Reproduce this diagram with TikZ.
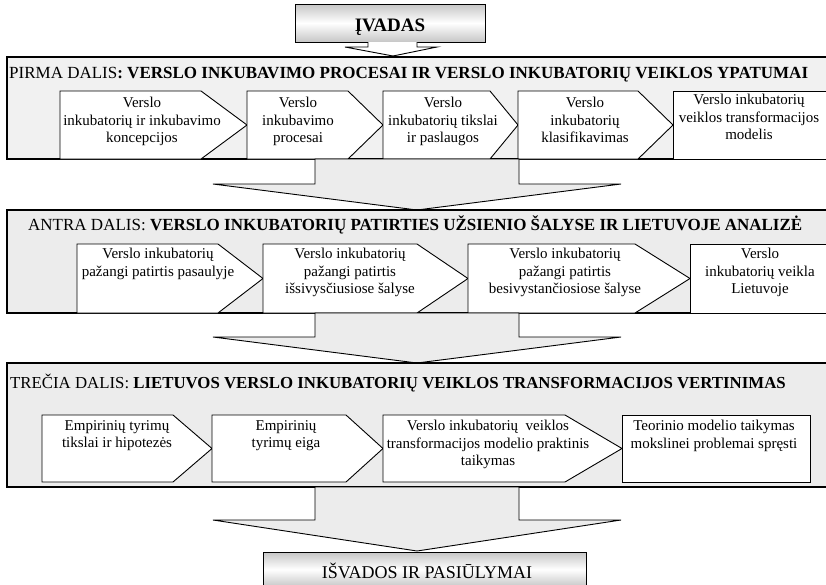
\documentclass[tikz,border=0pt]{standalone}
\usepackage{fontspec}
\setmainfont{Liberation Serif}
\begin{document}
\begin{tikzpicture}[x=1pt,y=-1pt]
\tikzset{
  part/.style={draw=black, line width=1.1pt, fill=gray!15},
  partone/.style={part, fill=gray!11},
  stepbox/.style={draw=black, line width=0.9pt, fill=white},
  bigarrow/.style={draw=black, line width=0.9pt, fill=gray!15},
  smallarrow/.style={draw=black, line width=0.9pt, fill=white},
  banner/.style={draw=black, line width=0.9pt, top color=gray!45, bottom color=gray!45, middle color=white},
  boxtext/.style={anchor=north, inner sep=0pt, align=center, font=\fontsize{15}{17.5}\selectfont},
  parttitle/.style={anchor=base west, inner sep=0pt, font=\fontsize{17}{20}\selectfont},
}
% left, shoulder, tip, top, bottom
\newcommand\stepshape[5]{%
  \draw[stepbox] (#1,#4) -- (#2,#4) -- (#3,{(#4+#5)/2}) -- (#2,#5) -- (#1,#5) -- cycle;}
% stem top, stem bottom, tip
\newcommand\partarrow[3]{%
  \draw[bigarrow] (315,#1) -- (315,#2) -- (213,#2) -- (417,#3) -- (621,#2) -- (519,#2) -- (519,#1) -- cycle;}

\useasboundingbox (0,0) rectangle (826,584);

% introduction banner and its arrow
\draw[banner] (295,4) rectangle (485,42);
\node[anchor=base, inner sep=0pt, font=\fontsize{19}{22}\selectfont\bfseries] (intro) at (390,31) {ĮVADAS};
\draw[smallarrow] (368,42) -- (368,47) -- (345,47) -- (393,56) -- (437,47) -- (417,47) -- (417,42);

% part one
\draw[partone] (7,57) rectangle (828,159);
\node[parttitle] (title1) at (9,78) {PIRMA DALIS\textbf{: VERSLO INKUBAVIMO PROCESAI IR VERSLO INKUBATORIŲ VEIKLOS YPATUMAI}};
\stepshape{60}{201}{247}{91}{159}
\stepshape{247}{348}{383}{91}{159}
\stepshape{383}{490}{518}{91}{159}
\stepshape{518}{638}{673}{91}{159}
\draw[stepbox] (673,91) rectangle (828,159);
\node[boxtext] (p11) at (142,97) {Verslo\\inkubatorių ir inkubavimo\\koncepcijos};
\node[boxtext] (p12) at (298,97) {Verslo\\inkubavimo\\procesai};
\node[boxtext] (p13) at (443,97) {Verslo\\inkubatorių tikslai\\ir paslaugos};
\node[boxtext] (p14) at (585,97) {Verslo\\inkubatorių\\klasifikavimas};
\node[boxtext] (p15) at (749,94) {Verslo inkubatorių\\veiklos transformacijos\\modelis};

\partarrow{159}{184}{210}

% part two
\draw[part] (7,210) rectangle (828,313);
\node[parttitle] (title2) at (28,230) {ANTRA DALIS: \textbf{VERSLO INKUBATORIŲ PATIRTIES UŽSIENIO ŠALYSE IR LIETUVOJE ANALIZĖ}};
\stepshape{77}{218}{263}{244}{313}
\stepshape{263}{417}{468}{244}{313}
\stepshape{468}{635}{690}{244}{313}
\draw[stepbox] (690,244) rectangle (828,313);
\node[boxtext] (p21) at (158,248) {Verslo inkubatorių\\pažangi patirtis pasaulyje};
\node[boxtext] (p22) at (350,248) {Verslo inkubatorių\\pažangi patirtis\\išsivysčiusiose šalyse};
\node[boxtext] (p23) at (565,248) {Verslo inkubatorių\\pažangi patirtis\\besivystančiosiose šalyse};
\node[boxtext] (p24) at (760,248) {Verslo\\inkubatorių veikla\\Lietuvoje};

\partarrow{313}{337}{363}

% part three
\draw[part] (7,363) rectangle (828,487);
\node[parttitle, font=\fontsize{16.8}{20}\selectfont] (title3) at (10,388) {TREČIA DALIS: \textbf{LIETUVOS VERSLO INKUBATORIŲ VEIKLOS TRANSFORMACIJOS VERTINIMAS}};
\stepshape{42}{173}{212}{415}{482}
\stepshape{212}{346}{383}{415}{482}
\stepshape{383}{565}{622}{415}{482}
\draw[stepbox] (622,415) rectangle (810,482);
\node[boxtext] (p31) at (117,420) {Empirinių tyrimų\\tikslai ir hipotezės};
\node[boxtext] (p32) at (286,420) {Empirinių\\tyrimų eiga};
\node[boxtext] (p33) at (488,420) {Verslo inkubatorių\ \ veiklos\\transformacijos modelio praktinis\\taikymas};
\node[boxtext] (p34) at (714,420) {Teorinio modelio taikymas\\mokslinei problemai spręsti};

\partarrow{487}{520}{551}

% conclusions banner
\draw[banner] (263,552) rectangle (586,587);
\node[anchor=base, inner sep=0pt, font=\fontsize{18}{22}\selectfont] (concl) at (427,578) {IŠVADOS IR PASIŪLYMAI};
\end{tikzpicture}
\end{document}
